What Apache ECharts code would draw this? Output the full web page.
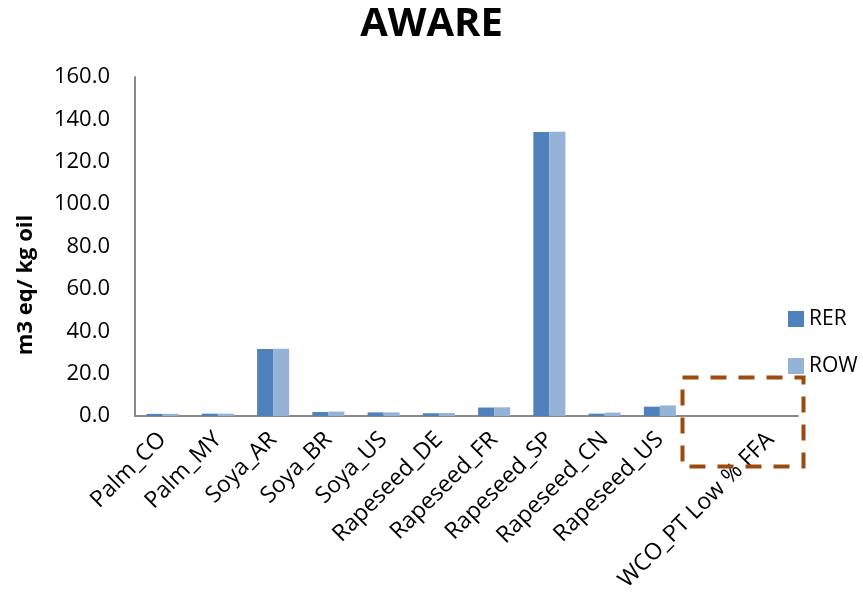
<!DOCTYPE html>
<html>
<head>
<meta charset="utf-8">
<script src="https://cdn.jsdelivr.net/npm/echarts@6/dist/echarts.min.js"></script>
<style>html,body{margin:0;padding:0;background:#fff}#c{width:863px;height:607px}</style>
</head>
<body>
<div id="c"></div>
<script>
// Water scarcity footprint (AWARE) per kg of oil, by feedstock and origin.
// The axis keeps one empty slot before the waste cooking oil entry.
const categories = ['Palm_CO', 'Palm_MY', 'Soya_AR', 'Soya_BR', 'Soya_US', 'Rapeseed_DE', 'Rapeseed_FR', 'Rapeseed_SP', 'Rapeseed_CN', 'Rapeseed_US', '', 'WCO_PT Low % FFA'];
const rerValues = [1.0, 1.1, 31.6, 1.9, 1.7, 1.3, 4.0, 134.0, 1.1, 4.4, null, 0];
const rowValues = [1.0, 1.1, 31.7, 2.1, 1.7, 1.4, 4.1, 134.2, 1.6, 5.0, null, 0];
const yTicks = { min: 0, max: 160, interval: 20 };

const font = '"Open Sans", Lato, sans-serif';
const chart = echarts.init(document.getElementById('c'));
chart.setOption({
  animation: false,
  title: {
    text: 'AWARE', left: 'center', top: 0,
    textStyle: { fontFamily: font, fontSize: 40, fontWeight: 'bold', color: '#000' }
  },
  legend: {
    orient: 'vertical', left: 783, top: 303, itemGap: 25,
    itemWidth: 16, itemHeight: 16, icon: 'rect',
    textStyle: { fontFamily: font, fontSize: 21, lineHeight: 22, color: '#000' },
    data: ['RER', 'ROW']
  },
  grid: { left: 135, right: 65, top: 77, bottom: 191, containLabel: false },
  xAxis: {
    type: 'category', data: categories,
    axisLine: { lineStyle: { color: '#898989', width: 2 } },
    axisTick: { show: false },
    axisLabel: { rotate: 45, fontFamily: font, fontSize: 23, color: '#000', margin: 20, interval: 0 }
  },
  yAxis: {
    type: 'value', min: yTicks.min, max: yTicks.max, interval: yTicks.interval,
    axisLine: { show: true, lineStyle: { color: '#898989', width: 2 } },
    axisTick: { show: false },
    splitLine: { show: false },
    axisLabel: { fontFamily: font, fontSize: 22, color: '#000', margin: 25, formatter: v => v.toFixed(1) }
  },
  series: [
    { name: 'RER', type: 'bar', data: rerValues, barWidth: '29%', barGap: '0%', itemStyle: { color: '#4F81BD' } },
    { name: 'ROW', type: 'bar', data: rowValues, barWidth: '29%', barGap: '0%', itemStyle: { color: '#95B3D7' } }
  ],
  graphic: [
    {
      // axis title, set a little below the axis midpoint
      type: 'text', x: 26, y: 285, rotation: Math.PI / 2,
      style: {
        text: 'm3 eq/ kg oil', fontFamily: font, fontSize: 22, fontWeight: 'bold',
        fill: '#000', align: 'center', verticalAlign: 'middle'
      }
    },
    {
      // dashed highlight around the waste cooking oil slot
      type: 'rect', left: 680, top: 375, z: 100,
      shape: { width: 121, height: 89 },
      style: { fill: 'none', stroke: '#9C4A0E', lineWidth: 4, lineDash: [16, 12] }
    }
  ]
});
</script>
</body>
</html>
